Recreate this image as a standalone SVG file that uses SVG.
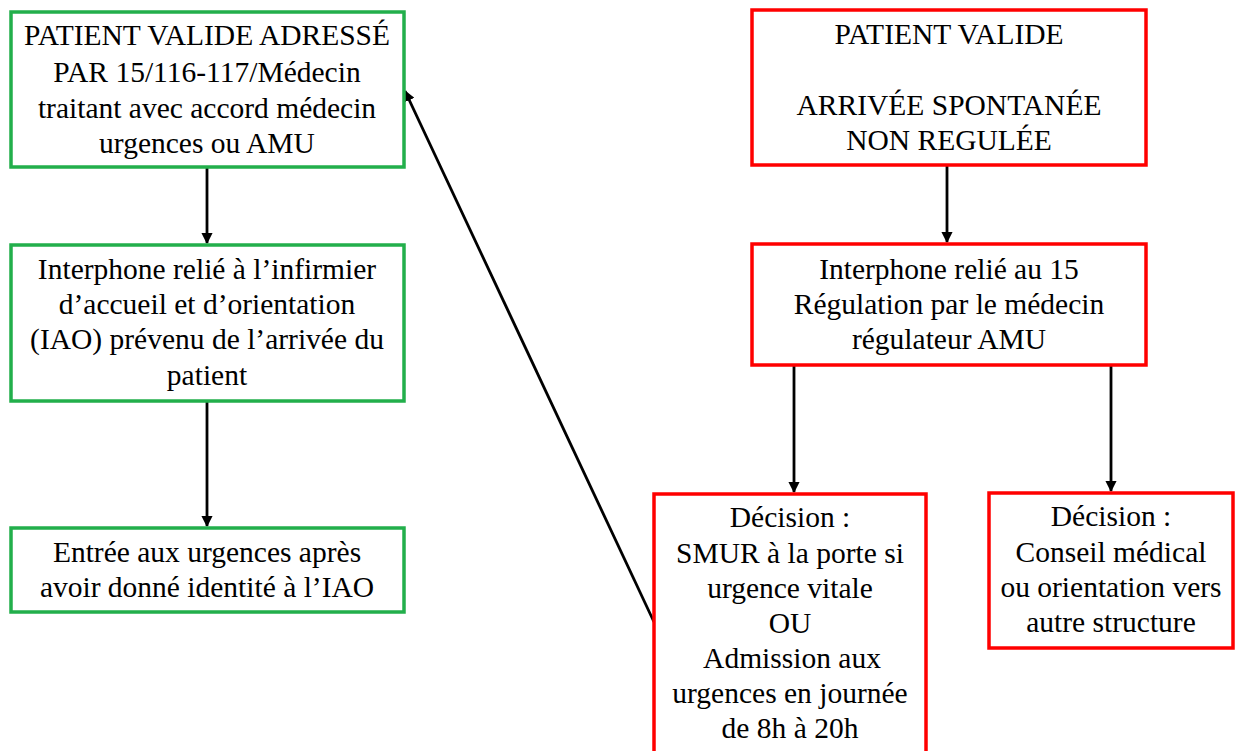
<svg xmlns="http://www.w3.org/2000/svg" width="1237" height="751" viewBox="0 0 1237 751">
<style>
.g{fill:#fff;stroke:#22AF4B;stroke-width:3.5}
.r{fill:#fff;stroke:#FF0000;stroke-width:3.5}
text{font-family:"Liberation Serif","Times New Roman",serif;font-size:29.5px;fill:#000;text-anchor:middle}
.c{stroke:#000;stroke-width:2.8;fill:none;marker-end:url(#ah)}
</style>
<defs>
<marker id="ah" viewBox="0 0 10 10" refX="9" refY="5" markerWidth="4" markerHeight="4" markerUnits="strokeWidth" orient="auto">
<path d="M0,0 L10,5 L0,10 z" fill="#000"/>
</marker>
</defs>
<g id="connectors">
<line class="c" x1="207" y1="168" x2="207" y2="243"/>
<line class="c" x1="207" y1="401" x2="207" y2="526"/>
<line class="c" x1="947" y1="166" x2="947" y2="242"/>
<line class="c" x1="794" y1="366" x2="794" y2="492"/>
<line class="c" x1="1111" y1="366" x2="1111" y2="491"/>
<line class="c" x1="654" y1="622" x2="405" y2="91"/>
</g>
<g id="n1">
<rect class="g" x="11" y="12" width="393" height="155"/>
<text x="207" y="45">PATIENT VALIDE ADRESSÉ</text>
<text x="207" y="82">PAR 15/116-117/Médecin</text>
<text x="207" y="118">traitant avec accord médecin</text>
<text x="207" y="153">urgences ou AMU</text>
</g>
<g id="n2">
<rect class="g" x="11" y="245" width="393" height="156"/>
<text x="207" y="279">Interphone relié à l’infirmier</text>
<text x="207" y="314">d’accueil et d’orientation</text>
<text x="207" y="349">(IAO) prévenu de l’arrivée du</text>
<text x="207" y="385">patient</text>
</g>
<g id="n3">
<rect class="g" x="11" y="528" width="393" height="84"/>
<text x="207" y="562">Entrée aux urgences après</text>
<text x="207" y="597">avoir donné identité à l’IAO</text>
</g>
<g id="r1">
<rect class="r" x="752" y="10" width="394" height="155"/>
<text x="949" y="44">PATIENT VALIDE</text>
<text x="949" y="115">ARRIVÉE SPONTANÉE</text>
<text x="949" y="150">NON REGULÉE</text>
</g>
<g id="r2">
<rect class="r" x="752" y="244" width="394" height="121"/>
<text x="949" y="279">Interphone relié au 15</text>
<text x="949" y="314">Régulation par le médecin</text>
<text x="949" y="349">régulateur AMU</text>
</g>
<g id="d1">
<rect class="r" x="654" y="494" width="272" height="270"/>
<text x="790" y="527">Décision :</text>
<text x="790" y="563">SMUR à la porte si</text>
<text x="790" y="598">urgence vitale</text>
<text x="790" y="633">OU</text>
<text x="792" y="668">Admission aux</text>
<text x="790" y="703">urgences en journée</text>
<text x="790" y="738">de 8h à 20h</text>
</g>
<g id="d2">
<rect class="r" x="989" y="493" width="244" height="155"/>
<text x="1111" y="526">Décision :</text>
<text x="1111" y="562">Conseil médical</text>
<text x="1111" y="597">ou orientation vers</text>
<text x="1111" y="632">autre structure</text>
</g>
</svg>
